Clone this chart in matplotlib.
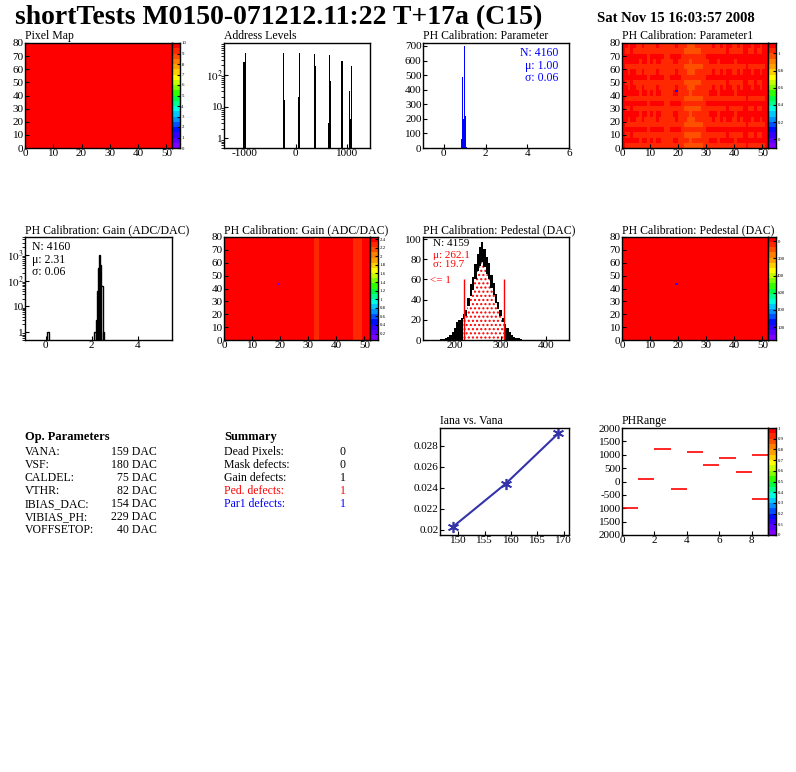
import matplotlib
matplotlib.use('Agg')
import matplotlib.pyplot as plt
import numpy as np
from matplotlib.colors import ListedColormap

plt.rcParams['font.family'] = 'Liberation Serif'
plt.rcParams['mathtext.fontset'] = 'stix'
plt.rcParams['axes.unicode_minus'] = False
plt.rcParams['font.size'] = 8
plt.rcParams['axes.linewidth'] = 1.0

W, H = 796, 772

# ROOT-like rainbow palette
root_cols = ['#7f00ff', '#5a00ff', '#3300ff', '#0010ff', '#0050ff', '#0090ff', '#00c8ff',
             '#00ffe0', '#00ff90', '#00ff40', '#30ff00', '#80ff00', '#c8ff00', '#ffff00',
             '#ffd000', '#ffa000', '#ff8000', '#ff5000', '#ff2800', '#ff0000']
cmap = ListedColormap(root_cols)

# ---- data ----
addr_x = [-1010, -985, -235, -215, 50, 75, 360, 385, 645, 665, 685, 890, 910, 1050, 1070, 1090]
addr_n = [260, 500, 500, 16, 20, 500, 450, 190, 3, 430, 65, 280, 280, 30, 4, 190]

par_x = [0.85, 0.9, 0.95, 1.0, 1.05, 1.1]
par_n = [60, 490, 200, 700, 220, 5]

gain_x = [0.1, 2.15, 2.2, 2.25, 2.3, 2.35, 2.4, 2.45, 2.5]
gain_n = [1, 1, 3, 40, 300, 1000, 400, 60, 1]

ped_x = [170, 175, 180, 185, 190, 195, 200, 205, 210, 215, 220, 225, 230, 235, 240, 245, 250,
         255, 260, 265, 270, 275, 280, 285, 290, 295, 300, 305, 310, 315, 320, 325, 330, 335, 340, 345]
ped_n = [1, 1, 2, 3, 5, 8, 12, 18, 20, 22, 26, 30, 42, 55, 62, 75, 85, 92, 97, 90, 82, 76, 64,
         56, 46, 38, 30, 22, 16, 12, 8, 5, 3, 2, 2, 1]

vana = [149, 159, 169]
iana = [0.0203, 0.0244, 0.0292]

ph_bins = [0, 1, 2, 3, 4, 5, 6, 7, 8, 8]
ph_vals = [-1000, 80, 1200, -280, 1120, 620, 880, 340, 1000, -650]

# Parameter1 map profiles
p1_cols = [1.08, 1.06, 1.05, 1.07, 1.06, 1.05, 1.04, 1.06, 1.05, 1.03, 1.05, 1.04, 1.06, 1.05,
           1.04, 1.03, 1.02, 1.04, 1.05, 1.06, 1.04, 1.02, 1.0, 0.99, 0.98, 0.99, 1.0, 1.0, 1.01,
           1.03, 1.04, 1.05, 1.06, 1.05, 1.04, 1.06, 1.05, 1.07, 1.06, 1.05, 1.04, 1.06, 1.05,
           1.07, 1.08, 1.06, 1.05, 1.07, 1.06, 1.05, 1.07, 1.08]
p1_rows = [-0.02, 0.01, -0.01, 0.02, -0.02, 0.0, 0.01, -0.01, 0.02, -0.02, 0.01, 0.0, -0.01,
           0.02, 0.0, -0.02, 0.01, 0.02, -0.01, 0.0]
# Gain map columns (most red ~2.35, a few orange columns)
gain_cols = [2.38] * 32 + [2.26, 2.3] + [2.38] * 12 + [2.3, 2.28, 2.3] + [2.38] * 3

op_names = ['VANA:', 'VSF:', 'CALDEL:', 'VTHR:', 'IBIAS_DAC:', 'VIBIAS_PH:', 'VOFFSETOP:']
op_vals = ['159 DAC', '180 DAC', '75 DAC', '82 DAC', '154 DAC', '229 DAC', '40 DAC']
sum_names = ['Dead Pixels:', 'Mask defects:', 'Gain defects:', 'Ped. defects:', 'Par1 defects:']
sum_vals = ['0', '0', '1', '1', '1']
sum_colors = ['black', 'black', 'black', 'red', 'blue']


fig = plt.figure(figsize=(W / 100, H / 100), dpi=100)


def pax(x0, y0, x1, y1):
    return fig.add_axes([x0 / W, 1 - y1 / H, (x1 - x0) / W, (y1 - y0) / H])


def style(ax):
    ax.tick_params(direction='in', length=3, labelsize=8, pad=1, top=False, right=False)


def title(x, y, s):
    fig.text(x / W, 1 - y / H, s, fontsize=8.5, va='bottom', ha='left')


def colorbar(x1, y0, y1, vmin, vmax, cticks, clabels):
    cax = pax(x1, y0, x1 + 8, y1)
    cax.pcolormesh([0, 1], np.linspace(vmin, vmax, 21), np.linspace(vmin, vmax, 21)[:-1, None],
                   cmap=cmap, vmin=vmin, vmax=vmax)
    cax.set_xticks([])
    cax.yaxis.tick_right()
    cax.set_yticks(cticks)
    cax.set_yticklabels(clabels)
    cax.tick_params(labelsize=3.5, length=2, pad=1, direction='in')
    cax.set_ylim(vmin, vmax)


def map2d(x0, y0, x1, y1, z, vmin, vmax, cticks, clabels, ttl):
    ax = pax(x0, y0, x1, y1)
    ax.pcolormesh(np.arange(53), np.arange(81), z, cmap=cmap, vmin=vmin, vmax=vmax)
    ax.set_xlim(0, 52)
    ax.set_ylim(0, 80)
    ax.set_xticks([0, 10, 20, 30, 40, 50])
    ax.set_yticks(range(0, 81, 10))
    style(ax)
    colorbar(x1, y0, y1, vmin, vmax, cticks, clabels)
    title(x0, y0 - 1, ttl)
    return ax


# title
fig.text(15 / W, 1 - 24 / H, 'shortTests M0150-071212.11:22 T+17a (C15)', fontsize=20,
         fontweight='bold', va='baseline')
fig.text(597 / W, 1 - 18 / H, 'Sat Nov 15 16:03:57 2008', fontsize=10.5, fontweight='bold', va='center')

# Pixel map
z = np.full((80, 52), 9.9)
map2d(25, 43, 172, 148, z, 0, 10, range(11), [str(i) for i in range(11)], 'Pixel Map')

# Address levels
ax = pax(224, 43, 370, 148)
ax.bar(addr_x, addr_n, width=22, color='black', bottom=0.01)
ax.set_yscale('log')
ax.set_xlim(-1400, 1450)
ax.set_ylim(0.5, 1000)
ax.set_xticks([-1000, 0, 1000])
ax.set_yticks([1, 10, 100])
ax.set_yticklabels(['1', '10', '$10^2$'])
style(ax)
title(224, 42, 'Address Levels')

# Parameter
ax = pax(423, 43, 569, 148)
ax.bar(par_x, par_n, width=0.05, color='blue')
ax.set_xlim(-1, 6)
ax.set_ylim(0, 720)
ax.set_xticks([0, 2, 4, 6])
ax.set_yticks(range(0, 701, 100))
style(ax)
ax.text(0.93, 0.96, 'N: 4160\nμ: 1.00\nσ: 0.06', transform=ax.transAxes, color='blue',
        ha='right', va='top', fontsize=8.5, linespacing=1.05)
title(423, 42, 'PH Calibration: Parameter')

# Parameter1 map
z = np.array(p1_cols)[None, :] + np.repeat(p1_rows, 4)[:, None]
z[43, 19] = 0.1
map2d(622, 43, 768, 148, z, -0.1, 1.12, [0, 0.2, 0.4, 0.6, 0.8, 1], ['0', '0.2', '0.4', '0.6', '0.8', '1'],
      'PH Calibration: Parameter1')

# Gain
ax = pax(25, 237, 172, 340)
ax.bar(gain_x, gain_n, width=0.05, color='white', edgecolor='black', lw=1, bottom=0.01)
ax.set_yscale('log')
ax.set_xlim(-0.9, 5.5)
ax.set_ylim(0.5, 5000)
ax.set_xticks([0, 2, 4])
ax.set_yticks([1, 10, 100, 1000])
ax.set_yticklabels(['1', '10', '$10^2$', '$10^3$'])
style(ax)
ax.text(0.05, 0.96, 'N: 4160\nμ: 2.31\nσ: 0.06', transform=ax.transAxes,
        ha='left', va='top', fontsize=8.5, linespacing=1.05)
title(25, 236, 'PH Calibration: Gain (ADC/DAC)')

# Gain map
z = np.tile(gain_cols, (80, 1))
z[43, 19] = 0.1
map2d(224, 237, 370, 340, z, 0.05, 2.45, np.arange(0.2, 2.41, 0.2),
      ['0.2', '0.4', '0.6', '0.8', '1', '1.2', '1.4', '1.6', '1.8', '2', '2.2', '2.4'],
      'PH Calibration: Gain (ADC/DAC)')

# Pedestal
ax = pax(423, 237, 569, 340)
ax.bar(ped_x, ped_n, width=5, color='black')
inside = [(x, n * 0.8) for x, n in zip(ped_x, ped_n) if 220 <= x <= 305]
ax.bar([p[0] for p in inside], [p[1] for p in inside], width=5, color='white', edgecolor='red',
       hatch='....', lw=0)
ax.vlines([220, 307], 0, 60, color='red', lw=1)
ax.set_xlim(130, 450)
ax.set_ylim(0, 102)
ax.set_xticks([200, 300, 400])
ax.set_yticks(range(0, 101, 20))
style(ax)
ax.text(0.07, 0.98, 'N: 4159', transform=ax.transAxes, ha='left', va='top', fontsize=8)
ax.text(0.07, 0.86, 'μ: 262.1\nσ: 19.7', transform=ax.transAxes, ha='left', va='top',
        fontsize=8, color='red', linespacing=1.0)
ax.text(0.05, 0.58, '<= 1', transform=ax.transAxes, ha='left', va='center', fontsize=8, color='red')
title(423, 236, 'PH Calibration: Pedestal (DAC)')

# Pedestal map
z = np.full((80, 52), 20.0)
z[43, 19] = -1000
map2d(622, 237, 768, 340, z, -1150, 50, [0, -200, -400, -600, -800, -1000],
      ['0', '200', '400', '600', '800', '100'], 'PH Calibration: Pedestal (DAC)')

# Iana vs Vana
ax = pax(440, 428, 569, 535)
ax.plot(vana, iana, color='#3333aa', lw=1.5, marker=(6, 2, 0), ms=8, mew=1.2)
ax.set_xlim(146.5, 171)
ax.set_ylim(0.0195, 0.0297)
ax.set_xticks([150, 155, 160, 165, 170])
ax.set_yticks([0.02, 0.022, 0.024, 0.026, 0.028])
ax.set_yticklabels(['0.02', '0.022', '0.024', '0.026', '0.028'])
style(ax)
title(440, 427, 'Iana vs. Vana')

# PHRange
ax = pax(622, 428, 768, 535)
ax.hlines(ph_vals, ph_bins, np.array(ph_bins) + 1, color='red', lw=1.2)
ax.set_xlim(0, 9)
ax.set_ylim(-2000, 2000)
ax.set_xticks([0, 2, 4, 6, 8])
ax.set_yticks(range(-2000, 2001, 500))
ax.set_yticklabels(['2000', '1500', '1000', '-500', '0', '500', '1000', '1500', '2000'])
style(ax)
colorbar(768, 428, 535, 0, 1, np.arange(0, 1.01, 0.1),
         ['0', '0.1', '0.2', '0.3', '0.4', '0.5', '0.6', '0.7', '0.8', '0.9', '1'])
title(622, 427, 'PHRange')

# Op. parameters text
fig.text(25 / W, 1 - 437 / H, 'Op. Parameters', fontsize=9, fontweight='bold', va='center')
for i, (n, v) in enumerate(zip(op_names, op_vals)):
    y = 1 - (452 + 13 * i) / H
    fig.text(25 / W, y, n, fontsize=8.5, va='center')
    fig.text(157 / W, y, v, fontsize=8.5, va='center', ha='right')

fig.text(224 / W, 1 - 437 / H, 'Summary', fontsize=9, fontweight='bold', va='center')
for i, (n, v, c) in enumerate(zip(sum_names, sum_vals, sum_colors)):
    y = 1 - (452 + 13 * i) / H
    fig.text(224 / W, y, n, fontsize=8.5, va='center', color=c)
    fig.text(346 / W, y, v, fontsize=8.5, va='center', ha='right', color=c)

fig.savefig('out.png', dpi=100)
